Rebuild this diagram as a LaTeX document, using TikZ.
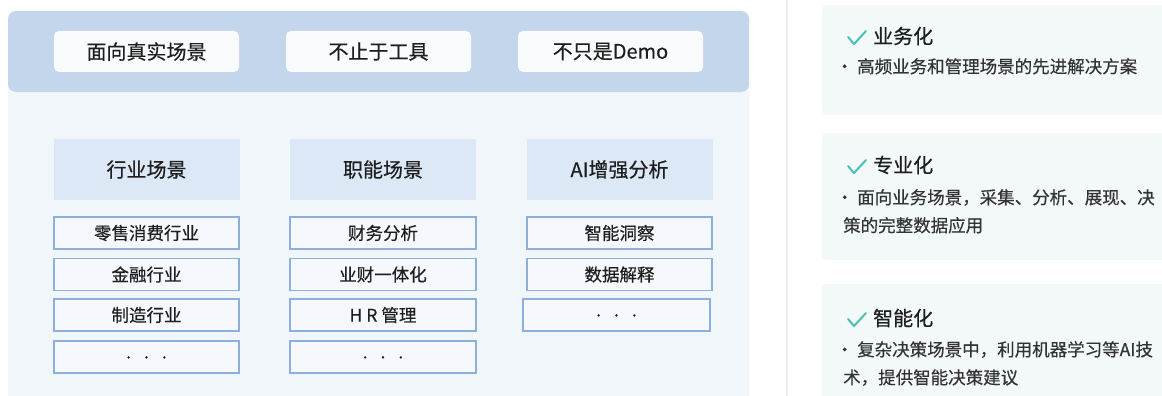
\documentclass[tikz,border=0pt]{standalone}
\usepackage{fontspec}
\setmainfont[FakeBold=0.35]{Noto Sans CJK SC}
\newfontfamily\titlefont[FakeBold=0.6]{Noto Sans CJK SC}
\usetikzlibrary{calc}
\definecolor{bandblue}{HTML}{C3D6EC}
\definecolor{panelbg}{HTML}{F1F6FB}
\definecolor{topfill}{HTML}{F9FBFD}
\definecolor{headfill}{HTML}{DCE8F5}
\definecolor{rowfill}{HTML}{F5F8FC}
\definecolor{rowline}{HTML}{8EAFDD}
\definecolor{cardfill}{HTML}{F3F8F9}
\definecolor{checkteal}{HTML}{4DBFB5}
\definecolor{txtdark}{HTML}{1E1E1E}
\definecolor{txtdesc}{HTML}{333333}
\definecolor{sepline}{HTML}{EDEDED}
\tikzset{
  topbox/.style={fill=topfill, rounded corners=5pt, minimum width=185pt, minimum height=41pt, inner sep=0pt, text=txtdark, font=\fontsize{20}{24}\selectfont},
  headbox/.style={fill=headfill, minimum width=186pt, minimum height=61pt, inner sep=0pt, text=txtdark, font=\fontsize{20}{24}\selectfont},
  rowbox/.style={fill=rowfill, draw=rowline, line width=1.3pt, minimum width=186pt, minimum height=32pt, inner sep=0pt, text=txtdark, font=\fontsize{17.5}{21}\selectfont},
  cardtitle/.style={anchor=west, inner sep=0pt, text=txtdark, font=\titlefont\fontsize{20}{24}\selectfont},
  carddesc/.style={anchor=north west, inner sep=0pt, text=txtdesc, align=left, font=\fontsize{17.5}{28}\selectfont},
  checkmark/.style={draw=checkteal, line width=2pt, line cap=round, line join=round},
}
\newcommand{\mythreedots}{\raisebox{-3pt}{.\hspace{13pt}.\hspace{13pt}.}}
\newcommand{\mybullet}{\makebox[3pt][c]{·}\hspace{11pt}}
\begin{document}
\begin{tikzpicture}[x=1pt,y=-1pt]
\path[use as bounding box] (0,0) rectangle (1162,396);
\clip (0,0) rectangle (1162,396);
\fill[white] (0,0) rectangle (1162,396);
% left panel
\fill[panelbg, rounded corners=8pt] (8,11) rectangle (749,410);
\fill[bandblue, rounded corners=8pt] (8,11) rectangle (749,92);
\node[topbox] (t1) at (146.5,51.5) {面向真实场景};
\node[topbox] (t2) at (378.5,51.5) {不止于工具};
\node[topbox] (t3) at (610.5,51.5) {不只是Demo};
\node[headbox] (h1) at (146.5,169.5) {行业场景};
\node[headbox] (h2) at (383,169.5) {职能场景};
\node[headbox] (h3) at (619.5,169.5) {AI增强分析};
% column 1
\node[rowbox, minimum width=185pt] (a1) at (146.5,233) {零售消费行业};
\node[rowbox, minimum width=185pt] (a2) at (146.5,274.5) {金融行业};
\node[rowbox, minimum width=185pt] (a3) at (146.5,315) {制造行业};
\node[rowbox, minimum width=185pt] (a4) at (146.5,357) {\mythreedots};
% column 2
\node[rowbox] (b1) at (383,233) {财务分析};
\node[rowbox] (b2) at (383,274.5) {业财一体化};
\node[rowbox] (b3) at (383,315) {H\hspace{4pt}R\hspace{4pt}管理};
\node[rowbox] (b4) at (383,357) {\mythreedots};
% column 3
\node[rowbox, minimum width=185pt] (c1) at (619.5,233) {智能洞察};
\node[rowbox, minimum width=185pt] (c2) at (619.5,274.5) {数据解释};
\node[rowbox, minimum width=187pt] (c3) at (616.5,315) {\mythreedots};
% separator
\draw[sepline, line width=1.5pt] (787,0) -- (787,396);
% right cards
\fill[cardfill, rounded corners=4pt] (822,5) rectangle (1175,115);
\fill[cardfill, rounded corners=4pt] (822,133) rectangle (1175,260);
\fill[cardfill, rounded corners=4pt] (822,284) rectangle (1175,410);
\node[cardtitle] (r1) at (873,36) {业务化};
\node[carddesc] (d1) at (843,58) {\mybullet 高频业务和管理场景的先进解决方案};
\node[cardtitle] (r2) at (873,165) {专业化};
\node[carddesc] (d2) at (843,189) {\mybullet 面向业务场景，采集、分析、展现、决\\策的完整数据应用};
\node[cardtitle] (r3) at (873,318) {智能化};
\node[carddesc] (d3) at (843,341) {\mybullet 复杂决策场景中，利用机器学习等AI技\\术，提供智能决策建议};
\draw[checkmark] ($(r1.west)+(-25,1)$) -- ++(6,7) -- ++(12,-13);
\draw[checkmark] ($(r2.west)+(-25,1)$) -- ++(6,7) -- ++(12,-13);
\draw[checkmark] ($(r3.west)+(-25,1)$) -- ++(6,7) -- ++(12,-13);
\end{tikzpicture}
\end{document}
